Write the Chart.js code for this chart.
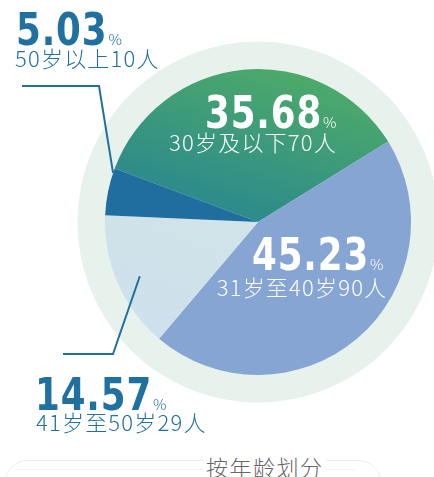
<!DOCTYPE html>
<html>
<head>
<meta charset="utf-8">
<script src="https://cdn.jsdelivr.net/npm/chart.js@4"></script>
<style>
  body { margin: 0; background: #fff; }
  #wrap { position: relative; width: 434px; height: 477px; overflow: hidden; }
  #card { position: absolute; left: 4px; top: 460px; width: 376px; height: 60px;
          border: 1px solid #eeeeee; border-radius: 24px; }
  #cardInner { position: absolute; left: 16px; top: 469px; width: 340px; border-top: 1px solid #f3f3f3; }
  #title { position: absolute; left: 204px; top: 450px; font: 300 22px "Noto Sans CJK SC", sans-serif;
           color: #666; letter-spacing: 1.5px; background: #fff; padding: 0 2px; }
</style>
</head>
<body>
<div id="wrap">
  <canvas id="ageChart" width="434" height="477"></canvas>
  <div id="card"></div>
  <div id="cardInner"></div>
  <div id="title">按年龄划分</div>
</div>
<script>
const categories = ['30岁及以下', '31岁至40岁', '41岁至50岁', '50岁以上'];
const counts = [70, 90, 29, 10];
const percents = [35.68, 45.23, 14.57, 5.03];

const colors = ['#3f9a7a', '#87a5d2', '#d0e2ea', '#1f6e9f'];

// label placement, offsets from the pie centre
const labelLayout = [
    { color: '#fff', numX: -53, numY: -94, subX: -5, subY: -71 },
    { color: '#fff', numX: -6, numY: 48, subX: 44, subY: 74 },
    { color: '#2070a0', numX: -223, numY: 188, subX: -222, subY: 209, subAlign: 'left',
      lead: { frac: 0.48, r: 0.85, elbow: [-145, 132], end: [-195, 132] } },
    { color: '#2070a0', numX: -242, numY: -177, subX: -243, subY: -155, subAlign: 'left',
      lead: { frac: 0.9, r: 1.0, elbow: [-159, -136], end: [-236, -136] } }
];

const ringPlugin = {
    id: 'ring',
    beforeDatasetsDraw(chart) {
        const arc = chart.getDatasetMeta(0).data[0];
        const c = chart.ctx;
        c.save();
        c.beginPath();
        c.arc(arc.x, arc.y, arc.outerRadius * 1.18, 0, Math.PI * 2);
        c.fillStyle = '#e7f2ec';
        c.fill();
        c.restore();
    }
};

const labelPlugin = {
    id: 'labels',
    afterDatasetsDraw(chart) {
        const c = chart.ctx;
        const arcs = chart.getDatasetMeta(0).data;
        c.save();
        arcs.forEach((arc, i) => {
            const L = labelLayout[i];
            const cx = arc.x, cy = arc.y;
            if (L.lead) {
                const a = arc.startAngle + (arc.endAngle - arc.startAngle) * L.lead.frac;
                const r = arc.outerRadius * L.lead.r;
                c.beginPath();
                c.moveTo(cx + Math.cos(a) * r, cy + Math.sin(a) * r);
                c.lineTo(cx + L.lead.elbow[0], cy + L.lead.elbow[1]);
                c.lineTo(cx + L.lead.end[0], cy + L.lead.end[1]);
                c.strokeStyle = '#2070a0';
                c.lineWidth = 2;
                c.stroke();
            }
            const num = percents[i].toFixed(2);
            c.fillStyle = L.color;
            c.textAlign = 'left';
            c.textBaseline = 'alphabetic';
            c.font = 'bold 45px "DejaVu Sans Condensed", sans-serif';
            c.letterSpacing = '1px';
            const sx = 0.88;
            const w = c.measureText(num).width * sx;
            c.save();
            c.translate(cx + L.numX, cy + L.numY);
            c.scale(sx, 1);
            c.fillText(num, 0, 0);
            c.restore();
            c.letterSpacing = '0px';
            c.font = '300 15px "Noto Sans CJK SC", sans-serif';
            c.fillText('%', cx + L.numX + w + 1, cy + L.numY);
            c.font = '300 22px "Noto Sans CJK SC", sans-serif';
            c.textAlign = L.subAlign || 'center';
            c.letterSpacing = '1.2px';
            c.fillText(categories[i] + counts[i] + '人', cx + L.subX, cy + L.subY);
            c.letterSpacing = '0px';
        });
        c.restore();
    }
};

new Chart(document.getElementById('ageChart'), {
    type: 'pie',
    data: {
        labels: categories,
        datasets: [{
            data: percents,
            borderWidth: 0,
            backgroundColor: function(context) {
                const chart = context.chart;
                const area = chart.chartArea;
                if (!area) return colors[context.dataIndex];
                const cx = (area.left + area.right) / 2;
                const cy = (area.top + area.bottom) / 2;
                if (context.dataIndex === 0) {
                    const g = chart.ctx.createLinearGradient(cx + 30, area.top, cx - 20, cy);
                    g.addColorStop(0, '#4daa69');
                    g.addColorStop(1, '#2b898d');
                    return g;
                }
                if (context.dataIndex === 2) {
                    const g = chart.ctx.createLinearGradient(cx, cy, cx - 60, area.bottom);
                    g.addColorStop(0, '#d1e4e8');
                    g.addColorStop(1, '#cde0ed');
                    return g;
                }
                return colors[context.dataIndex];
            }
        }]
    },
    options: {
        responsive: false,
        animation: false,
        rotation: -69.5,
        layout: {
            padding: { left: 105, right: 23, top: 69, bottom: 102 }
        },
        plugins: {
            legend: { display: false },
            tooltip: { enabled: false }
        }
    },
    plugins: [ringPlugin, labelPlugin]
});
</script>
</body>
</html>
